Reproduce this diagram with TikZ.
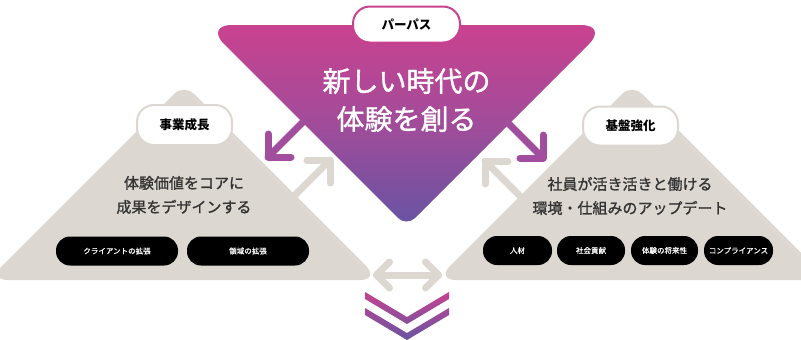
\documentclass[tikz,border=0pt]{standalone}
\usepackage{fontspec}
\setmainfont{Noto Sans CJK JP}
\newfontfamily\jpm{Noto Sans CJK JP}[FakeBold=1.2]
\newfontfamily\jpl{Noto Sans CJK JP}[FakeBold=0.6]
\definecolor{tri}{HTML}{DCD7D0}
\definecolor{pinkA}{HTML}{C9428F}
\definecolor{midP}{HTML}{A04C9A}
\definecolor{purpB}{HTML}{6654A3}
\definecolor{arrP}{HTML}{A04E9D}
\definecolor{txt}{HTML}{333333}
\tikzset{
  pill/.style={rectangle, rounded corners=#1, inner sep=0pt, align=center},
  headpill/.style={pill=17pt, fill=white, line width=2pt, text=black, font=\bfseries\fontsize{12.5}{14}\selectfont, minimum height=36pt},
  blackpill/.style={pill=14pt, fill=black, text=white, font=\jpl\fontsize{7.5}{9}\selectfont, minimum height=29pt},
  parr/.style={draw=arrP, line width=7pt, line cap=round, line join=round},
  garr/.style={draw=tri, line width=7pt, line cap=round, line join=round},
  bodytext/.style={text=txt, align=center, font=\jpm\fontsize{15}{24}\selectfont},
}
\begin{document}
\begin{tikzpicture}[x=1pt,y=-1pt]
\useasboundingbox (0,0) rectangle (801,340);
\begin{scope}
\clip (0,0) rectangle (801,340);
% side triangles
\fill[tri] (184,280) [rounded corners=20] -- (-12,280) [rounded corners=14] -- (184,84) [rounded corners=20] -- (380,280) -- cycle;
\fill[tri] (632,280) [rounded corners=20] -- (436,280) [rounded corners=14] -- (632,84) [rounded corners=20] -- (828,280) -- cycle;
\end{scope}
% main triangle
\shade[top color=pinkA, bottom color=purpB, middle color=midP]
  (406.5,25) [rounded corners=27] -- (608,25) [rounded corners=12] -- (406.5,226.5) [rounded corners=27] -- (205,25) -- cycle;
% pills
\node[headpill, draw=pinkA, minimum width=107pt] (purpose) at (406.5,24.5) {パーパス};
\node[headpill, draw=tri, minimum width=95pt, minimum height=40pt] (biz) at (184.5,125) {事業成長};
\node[headpill, draw=tri, minimum width=95pt, minimum height=39pt] (base) at (630.5,126) {基盤強化};
% main text
\node[text=white, align=center, font=\jpm\fontsize{28}{38}\selectfont] (maintext) at (406.5,100) {新しい時代の\\体験を創る};
% body texts
\node[bodytext] (bizt) at (184,195) {体験価値をコアに\\成果をデザインする};
\node[bodytext] (baset) at (630,196) {社員が活き活きと働ける\\環境・仕組みのアップデート};
% black pills
\node[blackpill, minimum width=122pt] (p1) at (117,251) {クライアントの拡張};
\node[blackpill, minimum width=122pt] (p2) at (248,251) {領域の拡張};
\node[blackpill, minimum width=69pt] (q1) at (517.5,250.5) {人材};
\node[blackpill, minimum width=68pt] (q2) at (591,250.5) {社会貢献};
\node[blackpill, minimum width=67pt] (q3) at (664.5,250.5) {体験の将来性};
\node[blackpill, minimum width=69pt] (q4) at (738.5,250.5) {コンプライアンス};
% arrows
\coordinate (lpS) at (302.5,122.5); \coordinate (lpC) at (268,157);
\coordinate (lpU) at (268,134); \coordinate (lpR) at (291,157);
\draw[parr] (lpS) -- (lpC); \draw[parr] (lpU) -- (lpC) -- (lpR);
\coordinate (lgS) at (295,195); \coordinate (lgC) at (330,160);
\coordinate (lgL) at (307,160); \coordinate (lgD) at (330,183);
\draw[garr] (lgS) -- (lgC); \draw[garr] (lgL) -- (lgC) -- (lgD);
\coordinate (rpS) at (509,124); \coordinate (rpC) at (543,158);
\coordinate (rpU) at (543,135); \coordinate (rpL) at (520,158);
\draw[parr] (rpS) -- (rpC); \draw[parr] (rpU) -- (rpC) -- (rpL);
\coordinate (rgS) at (520,196); \coordinate (rgC) at (485,161);
\coordinate (rgR) at (508,161); \coordinate (rgD) at (485,184);
\draw[garr] (rgS) -- (rgC); \draw[garr] (rgR) -- (rgC) -- (rgD);
% bottom double arrow
\coordinate (bL) at (376.5,275); \coordinate (bR) at (438.5,275);
\draw[garr] (bL) -- (bR);
\draw[garr] (389.5,262) -- (bL) -- (389.5,288);
\draw[garr] (425.5,262) -- (bR) -- (425.5,288);
% chevrons
\begin{scope}
\clip (365,292) -- (407,317) -- (449,292) -- (449,299) -- (407,324) -- (365,299) -- cycle
      (365,308) -- (407,333) -- (449,308) -- (449,315) -- (407,340) -- (365,315) -- cycle;
\shade[top color=pinkA, bottom color=purpB] (360,290) rectangle (454,341);
\end{scope}
\end{tikzpicture}
\end{document}
